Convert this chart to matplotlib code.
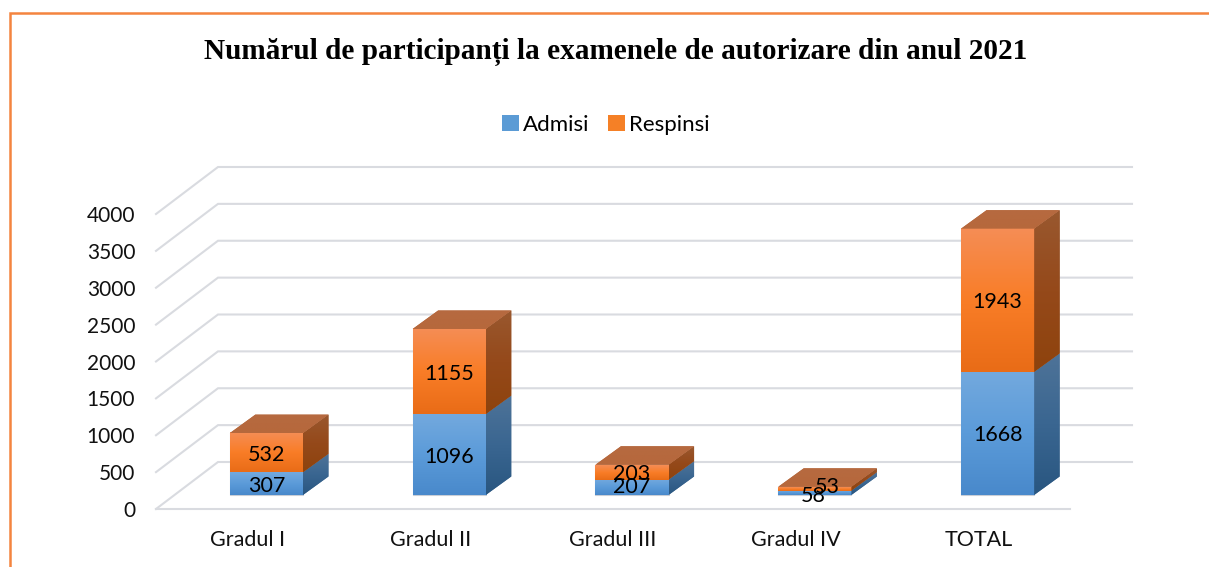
import numpy as np
import matplotlib
matplotlib.use("Agg")
import matplotlib.pyplot as plt
from matplotlib.colors import to_rgb
from matplotlib.lines import Line2D
from matplotlib.patches import Patch, Polygon

categories = ["Gradul I", "Gradul II", "Gradul III", "Gradul IV", "TOTAL"]
admisi = [307, 1096, 207, 58, 1668]
respinsi = [532, 1155, 203, 53, 1943]
y_ticks = [0, 500, 1000, 1500, 2000, 2500, 3000, 3500, 4000]

title = "Numărul de participanți la examenele de autorizare din anul 2021"

W, H = 1209, 567
# front plane of the fake 3d box, in pixels
LEFT, RIGHT, BOTTOM, TOP = 156, 1070, 509, 214
BAR_WIDTH = 0.4

plt.rcParams["font.family"] = ["Lato", "DejaVu Sans"]

fig = plt.figure(figsize=(W / 100, H / 100), dpi=100)
ax = fig.add_axes([LEFT / W, 1 - BOTTOM / H, (RIGHT - LEFT) / W, (BOTTOM - TOP) / H])
ax.set_xlim(-0.5, len(categories) - 0.5)
ax.set_ylim(0, 4000)

px_x = (len(categories)) / (RIGHT - LEFT)
px_y = 4000 / (BOTTOM - TOP)

# depth of the wall and of the bars, pixels -> data
wall_dx, wall_dy = 62 * px_x, 47 * px_y
front_dx, front_dy = 19 * px_x, 14 * px_y
bar_dx, bar_dy = 25.5 * px_x, 18.5 * px_y

grid_col = "#d9dbe0"
x0, x1 = ax.get_xlim()
for t in y_ticks:
    ax.plot([x0, x0 + wall_dx, x1 + wall_dx], [t, t + wall_dy, t + wall_dy],
            color=grid_col, lw=1.5, zorder=1, clip_on=False, solid_joinstyle="miter")
ax.plot([x0, x1], [0, 0], color=grid_col, lw=1.5, zorder=1, clip_on=False)


def gradient(stops, extent, clip, z):
    rows = np.linspace(0, 1, 64)
    pos = np.linspace(0, 1, len(stops))
    rgb = np.array([to_rgb(c) for c in stops])
    img = np.stack([np.interp(rows, pos, rgb[:, i]) for i in range(3)], axis=1)[:, None, :]
    im = ax.imshow(img, extent=extent, origin="upper", aspect="auto",
                   interpolation="bilinear", zorder=z)
    if clip is not None:
        im.set_clip_path(clip)
    im.set_clip_box(fig.bbox)


def draw_segment(x, base, value, front, side, solid, top=None):
    left = x + front_dx - BAR_WIDTH / 2
    right = left + BAR_WIDTH
    y0 = base + front_dy
    y1 = y0 + value
    bar = ax.bar(x + front_dx, value, BAR_WIDTH, bottom=y0, color=solid,
                 edgecolor="#c9ced6", lw=0.8, zorder=3, clip_on=False)[0]
    gradient(front, (left, right, y0, y1), None, 3.5)
    side_pts = [(right, y0), (right + bar_dx, y0 + bar_dy), (right + bar_dx, y1 + bar_dy), (right, y1)]
    poly = Polygon(side_pts, closed=True, color=side[0], lw=0, zorder=3, clip_on=False)
    ax.add_patch(poly)
    gradient(side, (right, right + bar_dx, y0, y1 + bar_dy), poly, 3.6)
    if top is not None:
        top_pts = [(left, y1), (left + bar_dx, y1 + bar_dy), (right + bar_dx, y1 + bar_dy), (right, y1)]
        tp = Polygon(top_pts, closed=True, color=top[0], lw=0, zorder=3, clip_on=False)
        ax.add_patch(tp)
        gradient(top, (left, right + bar_dx, y1, y1 + bar_dy), tp, 3.6)
    return bar


blue_front = ["#73a9de", "#5b9bd9", "#4989cb"]
blue_side = ["#4e7398", "#3a6691", "#295680"]
orange_front = ["#f58d55", "#f97d27", "#e96c17"]
orange_side = ["#99582f", "#95491a", "#8e430d"]
orange_top = ["#b66a40", "#b6683c"]

# manual nudges of the labels, in pixels, like in the original
nudge_a = {2: (0, 2), 3: (-2, -1)}
nudge_r = {3: (12, 4)}
label_dy = -2

for i in range(len(categories)):
    draw_segment(i, 0, admisi[i], blue_front, blue_side, "#5b9bd5")
    draw_segment(i, admisi[i], respinsi[i], orange_front, orange_side, "#ed7d31", top=orange_top)

    nx, ny = nudge_a.get(i, (0, 0))
    ax.text(i + front_dx + nx * px_x, front_dy + admisi[i] / 2 + (ny + label_dy) * px_y, str(admisi[i]),
            ha="center", va="center", fontsize=15.5, color="black", zorder=6, clip_on=False)
    nx, ny = nudge_r.get(i, (0, 0))
    ax.text(i + front_dx + nx * px_x, front_dy + admisi[i] + respinsi[i] / 2 + (ny + label_dy) * px_y, str(respinsi[i]),
            ha="center", va="center", fontsize=15.5, color="black", zorder=6, clip_on=False)

ax.set_xlim(x0, x1)
ax.set_ylim(0, 4000)
ax.set_xticks(range(len(categories)), categories)
ax.set_yticks(y_ticks)
ax.tick_params(axis="x", length=0, pad=15, labelsize=15.5, labelcolor="#111111")
ax.tick_params(axis="y", length=0, pad=15, labelsize=15, labelcolor="#111111")
for s in ax.spines.values():
    s.set_visible(False)
ax.patch.set_alpha(0)

fig.text(616 / W, 1 - 52 / H, title, family="Liberation Serif", fontweight="bold",
         fontsize=21.1, ha="center", va="center", color="black")

handles = [Patch(facecolor="#5b9bd5", label="Admisi"), Patch(facecolor="#f58026", label="Respinsi")]
fig.legend(handles=handles, loc="center", bbox_to_anchor=(606 / W, 1 - 125 / H), ncol=2, frameon=False,
           fontsize=16, handlelength=0.75, handleheight=0.75, handletextpad=0.2, columnspacing=0.85)

# orange frame of the page, runs off the right and the bottom
border = "#f4843f"
fig.add_artist(Line2D([10 / W, 10 / W, 1], [0, 1 - 13 / H, 1 - 13 / H], transform=fig.transFigure,
                      color=border, lw=1.8, solid_joinstyle="miter"))

fig.savefig("out.png", dpi=100, facecolor="white")
